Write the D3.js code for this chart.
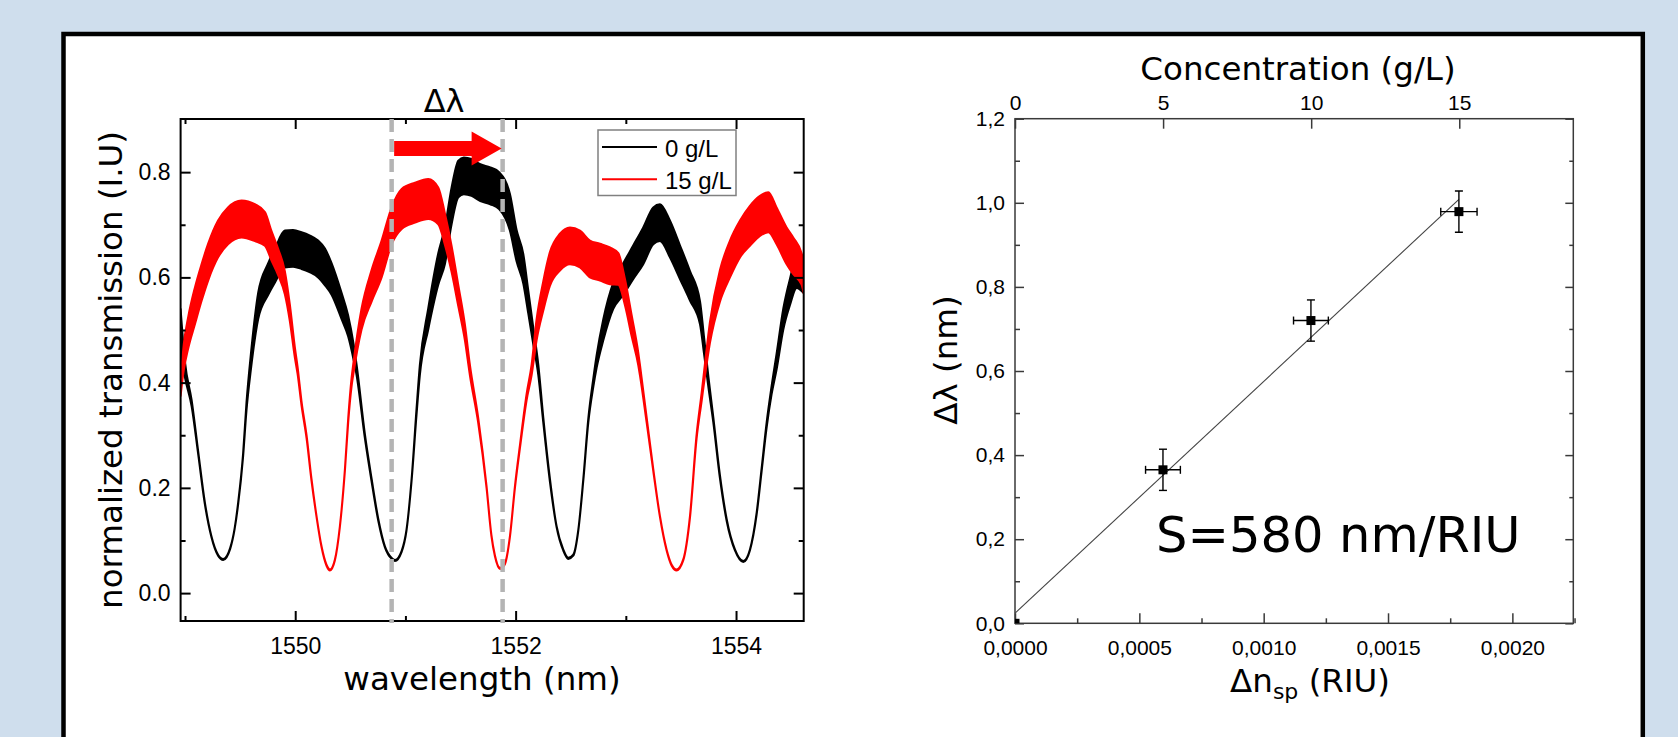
<!DOCTYPE html>
<html><head><meta charset="utf-8">
<script src="https://cdn.jsdelivr.net/npm/d3@7"></script>
<style>html,body{margin:0;padding:0;background:#cfdeed;} svg{display:block;}</style>
</head><body>
<svg id="chart" width="1678" height="737"></svg>
<script>
// ---------------- DATA ----------------
// Left panel: transmission spectra (centre value and half-width of the noise band)
const blackWl = [1548.96,1549.00,1549.06,1549.12,1549.18,1549.24,1549.30,1549.347,1549.41,1549.45,
  1549.482,1549.527,1549.558,1549.598,1549.664,1549.755,1549.815,1549.906,1549.98,1550.057,
  1550.13,1550.208,1550.27,1550.33,1550.42,1550.48,1550.53,1550.557,1550.633,1550.693,
  1550.754,1550.814,1550.875,1550.905,1550.965,1551.01,1551.056,1551.101,1551.131,1551.207,
  1551.298,1551.358,1551.419,1551.48,1551.53,1551.60,1551.68,1551.77,1551.85,1551.948,
  1552.009,1552.07,1552.115,1552.16,1552.206,1552.251,1552.311,1552.372,1552.432,1552.478,
  1552.523,1552.569,1552.614,1552.66,1552.705,1552.735,1552.795,1552.886,1552.977,1553.068,
  1553.158,1553.249,1553.31,1553.40,1553.491,1553.582,1553.673,1553.71,1553.75,1553.794,
  1553.854,1553.915,1553.99,1554.066,1554.126,1554.187,1554.232,1554.278,1554.323,1554.368,
  1554.429,1554.489,1554.55,1554.614];
const blackT = [0.50,0.424,0.361,0.266,0.171,0.107,0.072,0.064,0.085,0.122,
  0.170,0.262,0.355,0.44,0.546,0.597,0.622,0.654,0.655,0.651,
  0.645,0.635,0.62,0.597,0.546,0.508,0.458,0.424,0.297,0.215,
  0.139,0.088,0.066,0.062,0.079,0.120,0.215,0.345,0.424,0.521,
  0.616,0.66,0.736,0.787,0.793,0.79,0.78,0.774,0.765,0.724,
  0.66,0.616,0.553,0.489,0.424,0.329,0.215,0.126,0.082,0.066,
  0.072,0.12,0.215,0.329,0.400,0.44,0.50,0.565,0.597,0.629,
  0.66,0.698,0.704,0.673,0.629,0.584,0.533,0.47,0.40,0.329,
  0.221,0.139,0.082,0.06,0.082,0.151,0.234,0.320,0.386,0.44,
  0.521,0.572,0.61,0.60];
const blackNoise = [0.04,0.015,0.006,0.003,0.002,0.001,0.001,0.001,0.001,0.001,
  0.002,0.003,0.008,0.015,0.025,0.03,0.032,0.035,0.035,0.035,
  0.035,0.035,0.035,0.03,0.025,0.02,0.015,0.01,0.004,0.003,
  0.002,0.001,0.001,0.001,0.001,0.001,0.002,0.006,0.01,0.02,
  0.03,0.035,0.035,0.035,0.035,0.035,0.035,0.035,0.035,0.035,
  0.03,0.028,0.022,0.016,0.01,0.005,0.003,0.001,0.001,0.001,
  0.001,0.001,0.002,0.004,0.008,0.012,0.02,0.025,0.03,0.032,
  0.035,0.035,0.035,0.035,0.032,0.028,0.022,0.016,0.01,0.005,
  0.003,0.002,0.001,0.001,0.001,0.002,0.003,0.005,0.008,0.015,
  0.02,0.025,0.03,0.03];

const redWl = [1548.96,1548.99,1549.029,1549.09,1549.15,1549.21,1549.30,1549.39,1549.513,1549.634,
  1549.725,1549.785,1549.846,1549.906,1549.951,1549.997,1550.021,1550.057,1550.103,1550.148,
  1550.194,1550.239,1550.284,1550.315,1550.36,1550.405,1550.451,1550.481,1550.511,1550.526,
  1550.602,1550.693,1550.784,1550.875,1550.966,1551.087,1551.207,1551.298,1551.358,1551.419,
  1551.48,1551.54,1551.585,1551.66,1551.736,1551.78,1551.812,1551.858,1551.903,1551.948,
  1551.994,1552.039,1552.10,1552.145,1552.19,1552.251,1552.311,1552.402,1552.493,1552.584,
  1552.674,1552.765,1552.856,1552.932,1552.992,1553.053,1553.113,1553.128,1553.189,1553.249,
  1553.31,1553.37,1553.416,1553.461,1553.521,1553.582,1553.642,1553.688,1553.718,1553.763,
  1553.854,1553.945,1554.036,1554.126,1554.217,1554.293,1554.368,1554.459,1554.519,1554.595,
  1554.614];
const redT = [0.39,0.45,0.495,0.546,0.59,0.629,0.673,0.698,0.711,0.704,
  0.692,0.66,0.629,0.59,0.533,0.457,0.424,0.361,0.297,0.215,
  0.145,0.088,0.053,0.044,0.063,0.126,0.234,0.329,0.400,0.424,
  0.521,0.584,0.635,0.698,0.730,0.742,0.749,0.736,0.692,0.635,
  0.565,0.495,0.424,0.329,0.202,0.11,0.071,0.047,0.056,0.107,
  0.202,0.278,0.373,0.424,0.50,0.565,0.616,0.648,0.66,0.654,
  0.635,0.629,0.622,0.616,0.572,0.508,0.445,0.424,0.329,0.234,
  0.145,0.082,0.053,0.044,0.063,0.145,0.297,0.373,0.424,0.495,
  0.584,0.635,0.673,0.698,0.717,0.724,0.698,0.66,0.641,0.616,
  0.60];
const redNoise = [0.015,0.025,0.03,0.035,0.035,0.035,0.035,0.035,0.035,0.035,
  0.032,0.028,0.025,0.022,0.016,0.01,0.007,0.004,0.003,0.002,
  0.001,0.001,0.001,0.001,0.001,0.001,0.002,0.004,0.008,0.01,
  0.02,0.03,0.035,0.035,0.038,0.038,0.038,0.035,0.03,0.025,
  0.02,0.015,0.01,0.005,0.002,0.001,0.001,0.001,0.001,0.001,
  0.002,0.003,0.006,0.01,0.02,0.028,0.032,0.035,0.035,0.035,
  0.035,0.035,0.035,0.03,0.025,0.02,0.012,0.01,0.005,0.002,
  0.001,0.001,0.001,0.001,0.001,0.002,0.004,0.008,0.012,0.02,
  0.03,0.035,0.035,0.038,0.038,0.038,0.035,0.035,0.035,0.03,
  0.03];

const legendLabels = ["0 g/L", "15 g/L"];
const seriesColors = ["#000000", "#ff0000"];
const wlTicksMajor = [1550, 1552, 1554];
const wlTicksMinor = [1549, 1551, 1553];
const tTicksMajor = [0.0, 0.2, 0.4, 0.6, 0.8];
const tTicksMinor = [0.1, 0.3, 0.5, 0.7];
const shiftMarks = [1550.875, 1551.882];   // dashed guide lines (nm)
const arrowLevel = 0.845;                  // transmission level of the shift arrow

// Right panel: shift vs index change
const dnSp = [0, 0.000595, 0.00119, 0.001785];
const dLambda = [0, 0.365, 0.72, 0.979];
const dnErr = [0, 0.00007, 0.00007, 0.000073];
const dLambdaErr = [0, 0.049, 0.049, 0.049];
const concTicks = [0, 5, 10, 15];
const dnTicksMajor = [0, 0.0005, 0.0010, 0.0015, 0.0020];
const dnTicksMinor = [0.00025, 0.00075, 0.00125, 0.00175, 0.00225];
const dlTicksMajor = [0, 0.2, 0.4, 0.6, 0.8, 1.0, 1.2];
const dlTicksMinor = [0.1, 0.3, 0.5, 0.7, 0.9, 1.1];
const fitDn = [0, 0.001785];
const fitDl = [0.024, 1.008];
const sensitivityText = "S=580 nm/RIU";
const sensitivityPos = [0.000567, 0.170];

// ---------------- DRAWING ----------------
const svg = d3.select("#chart");
const TITLE_FONT = "'DejaVu Sans', Verdana, sans-serif";
const TICK_FONT = "'Liberation Sans', Arial, sans-serif";

svg.append("rect").attr("width", 1678).attr("height", 737).attr("fill", "#cfdeed");
svg.append("rect").attr("x", 63.5).attr("y", 34).attr("width", 1579.3).attr("height", 800)
  .attr("fill", "#ffffff").attr("stroke", "#000").attr("stroke-width", 4.5);

const defs = svg.append("defs");

function cleanAxis(g, color, width, size) {
  g.select(".domain").remove();
  g.attr("font-family", TICK_FONT).attr("font-size", size || 10);
  g.selectAll(".tick line").attr("stroke", color).attr("stroke-width", width);
  g.selectAll(".tick text").attr("fill", "#000");
}

// ===== Left panel =====
const L = {x0: 180.6, x1: 803.7, y0: 119, y1: 621};
const xL = d3.scaleLinear().domain([1548.96, 1554.614]).range([L.x0, L.x1]);
const yL = d3.scaleLinear().domain([-0.053, 0.901]).range([L.y1, L.y0]);

defs.append("clipPath").attr("id", "clipL").append("rect")
  .attr("x", L.x0).attr("y", L.y0).attr("width", L.x1 - L.x0).attr("height", L.y1 - L.y0);

const series = [
  {wl: blackWl, t: blackT, n: blackNoise, color: seriesColors[0]},
  {wl: redWl, t: redT, n: redNoise, color: seriesColors[1]}
];
const band = d3.area()
  .x(d => xL(d.w)).y0(d => yL(d.t - d.n)).y1(d => yL(d.t + d.n))
  .curve(d3.curveMonotoneX);
const gCurves = svg.append("g").attr("clip-path", "url(#clipL)");
series.forEach(s => {
  const pts = s.wl.map((w, i) => ({w: w, t: s.t[i], n: s.n[i]}));
  gCurves.append("path").datum(pts).attr("d", band)
    .attr("fill", s.color).attr("stroke", s.color).attr("stroke-width", 2)
    .attr("stroke-linejoin", "round");
});

// bottom axis
svg.append("g").attr("transform", `translate(0,${L.y1})`)
  .call(d3.axisBottom(xL).tickValues(wlTicksMajor).tickSizeInner(-10).tickSizeOuter(0)
    .tickPadding(17).tickFormat(d3.format("d")))
  .call(g => cleanAxis(g, "#000", 2, 23));
svg.append("g").attr("transform", `translate(0,${L.y1})`)
  .call(d3.axisBottom(xL).tickValues(wlTicksMinor).tickSizeInner(-5).tickSizeOuter(0).tickFormat(""))
  .call(g => cleanAxis(g, "#000", 2));
// top axis
svg.append("g").attr("transform", `translate(0,${L.y0})`)
  .call(d3.axisTop(xL).tickValues(wlTicksMajor).tickSizeInner(-10).tickSizeOuter(0).tickFormat(""))
  .call(g => cleanAxis(g, "#000", 2));
svg.append("g").attr("transform", `translate(0,${L.y0})`)
  .call(d3.axisTop(xL).tickValues(wlTicksMinor).tickSizeInner(-5).tickSizeOuter(0).tickFormat(""))
  .call(g => cleanAxis(g, "#000", 2));
// left axis
svg.append("g").attr("transform", `translate(${L.x0},0)`)
  .call(d3.axisLeft(yL).tickValues(tTicksMajor).tickSizeInner(-10).tickSizeOuter(0)
    .tickPadding(10).tickFormat(d3.format(".1f")))
  .call(g => cleanAxis(g, "#000", 2, 23));
svg.append("g").attr("transform", `translate(${L.x0},0)`)
  .call(d3.axisLeft(yL).tickValues(tTicksMinor).tickSizeInner(-5).tickSizeOuter(0).tickFormat(""))
  .call(g => cleanAxis(g, "#000", 2));
// right axis
svg.append("g").attr("transform", `translate(${L.x1},0)`)
  .call(d3.axisRight(yL).tickValues(tTicksMajor).tickSizeInner(-10).tickSizeOuter(0).tickFormat(""))
  .call(g => cleanAxis(g, "#000", 2));
svg.append("g").attr("transform", `translate(${L.x1},0)`)
  .call(d3.axisRight(yL).tickValues(tTicksMinor).tickSizeInner(-5).tickSizeOuter(0).tickFormat(""))
  .call(g => cleanAxis(g, "#000", 2));

svg.append("rect").attr("x", L.x0).attr("y", L.y0).attr("width", L.x1 - L.x0).attr("height", L.y1 - L.y0)
  .attr("fill", "none").attr("stroke", "#000").attr("stroke-width", 2);

// dashed guide lines
svg.selectAll(".shift").data(shiftMarks).join("line")
  .attr("x1", d => xL(d)).attr("x2", d => xL(d))
  .attr("y1", L.y0).attr("y2", L.y1 + 2)
  .attr("stroke", "#b4b4b4").attr("stroke-width", 4.5).attr("stroke-dasharray", "13,7");

// arrow
{
  const xa = xL(shiftMarks[0]) + 2.5, xb = xL(shiftMarks[1]) - 1, ya = yL(arrowLevel);
  const headLen = 30, shaftHalf = 7.5, headHalf = 17;
  svg.append("path")
    .attr("d", `M${xa},${ya - shaftHalf} L${xb - headLen},${ya - shaftHalf} L${xb - headLen},${ya - headHalf}
      L${xb},${ya} L${xb - headLen},${ya + headHalf} L${xb - headLen},${ya + shaftHalf} L${xa},${ya + shaftHalf} Z`)
    .attr("fill", "#ff0000");
}
svg.append("text").attr("x", (xL(shiftMarks[0]) + xL(shiftMarks[1])) / 2 - 3).attr("y", 112)
  .attr("text-anchor", "middle").attr("font-family", TITLE_FONT).attr("font-size", 32)
  .text("Δλ");

// legend
{
  const lg = svg.append("g");
  lg.append("rect").attr("x", 598).attr("y", 130).attr("width", 138).attr("height", 65.5)
    .attr("fill", "#fff").attr("stroke", "#808080").attr("stroke-width", 1.5);
  legendLabels.forEach((lab, i) => {
    const yy = 147 + i * 32.3;
    lg.append("line").attr("x1", 602).attr("x2", 657).attr("y1", yy).attr("y2", yy)
      .attr("stroke", seriesColors[i]).attr("stroke-width", 2);
    lg.append("text").attr("x", 665).attr("y", yy + 10).attr("font-family", TICK_FONT)
      .attr("font-size", 24).text(lab);
  });
}

// titles
svg.append("text").attr("transform", "translate(122,370) rotate(-90)")
  .attr("text-anchor", "middle").attr("font-family", TITLE_FONT).attr("font-size", 32.5)
  .text("normalized transmission (I.U)");
svg.append("text").attr("x", 482).attr("y", 690)
  .attr("text-anchor", "middle").attr("font-family", TITLE_FONT).attr("font-size", 32.5)
  .text("wavelength (nm)");

// ===== Right panel =====
const R = {x0: 1015, x1: 1573.3, y0: 118.7, y1: 623.3};
const xR = d3.scaleLinear().domain([0, 0.002245]).range([R.x0, R.x1]);
const xC = d3.scaleLinear().domain([0, 18.85]).range([R.x0, R.x1]);
const yR = d3.scaleLinear().domain([0, 1.2]).range([R.y1, R.y0]);
const AX = "#3a3a3a";
const comma = f => (d => f(d).replace(".", ","));

svg.append("g").attr("transform", `translate(0,${R.y1})`)
  .call(d3.axisBottom(xR).tickValues(dnTicksMajor).tickSizeInner(-10).tickSizeOuter(0)
    .tickPadding(17).tickFormat(comma(d3.format(".4f"))))
  .call(g => cleanAxis(g, AX, 1.5, 21));
svg.append("g").attr("transform", `translate(0,${R.y1})`)
  .call(d3.axisBottom(xR).tickValues(dnTicksMinor).tickSizeInner(-5).tickSizeOuter(0).tickFormat(""))
  .call(g => cleanAxis(g, AX, 1.5));
svg.append("g").attr("transform", `translate(0,${R.y0})`)
  .call(d3.axisTop(xC).tickValues(concTicks).tickSizeInner(-10).tickSizeOuter(0)
    .tickPadding(9).tickFormat(d3.format("d")))
  .call(g => cleanAxis(g, AX, 1.5, 21));
svg.append("g").attr("transform", `translate(${R.x0},0)`)
  .call(d3.axisLeft(yR).tickValues(dlTicksMajor).tickSizeInner(-9).tickSizeOuter(0)
    .tickPadding(10).tickFormat(comma(d3.format(".1f"))))
  .call(g => cleanAxis(g, AX, 1.5, 21));
svg.append("g").attr("transform", `translate(${R.x0},0)`)
  .call(d3.axisLeft(yR).tickValues(dlTicksMinor).tickSizeInner(-5).tickSizeOuter(0).tickFormat(""))
  .call(g => cleanAxis(g, AX, 1.5));
svg.append("g").attr("transform", `translate(${R.x1},0)`)
  .call(d3.axisRight(yR).tickValues(dlTicksMajor).tickSizeInner(-8).tickSizeOuter(0).tickFormat(""))
  .call(g => cleanAxis(g, AX, 1.5));
svg.append("g").attr("transform", `translate(${R.x1},0)`)
  .call(d3.axisRight(yR).tickValues(dlTicksMinor).tickSizeInner(-4).tickSizeOuter(0).tickFormat(""))
  .call(g => cleanAxis(g, AX, 1.5));

svg.append("rect").attr("x", R.x0).attr("y", R.y0).attr("width", R.x1 - R.x0).attr("height", R.y1 - R.y0)
  .attr("fill", "none").attr("stroke", AX).attr("stroke-width", 1.5);

defs.append("clipPath").attr("id", "clipR").append("rect")
  .attr("x", R.x0).attr("y", R.y0).attr("width", R.x1 - R.x0).attr("height", R.y1 - R.y0);

// fit line
svg.append("line")
  .attr("x1", xR(fitDn[0])).attr("y1", yR(fitDl[0]))
  .attr("x2", xR(fitDn[1])).attr("y2", yR(fitDl[1]))
  .attr("stroke", "#444").attr("stroke-width", 1.1);

// points with error bars
const gPts = svg.append("g").attr("clip-path", "url(#clipR)");
const pts = dnSp.map((x, i) => ({x: x, y: dLambda[i], ex: dnErr[i], ey: dLambdaErr[i]}));
const cap = 4;
pts.forEach(p => {
  const cx = xR(p.x), cy = yR(p.y);
  if (p.ey > 0) {
    const y1 = yR(p.y - p.ey), y2 = yR(p.y + p.ey);
    gPts.append("line").attr("x1", cx).attr("x2", cx).attr("y1", y1).attr("y2", y2);
    gPts.append("line").attr("x1", cx - cap).attr("x2", cx + cap).attr("y1", y1).attr("y2", y1);
    gPts.append("line").attr("x1", cx - cap).attr("x2", cx + cap).attr("y1", y2).attr("y2", y2);
  }
  if (p.ex > 0) {
    const x1 = xR(p.x - p.ex), x2 = xR(p.x + p.ex);
    gPts.append("line").attr("x1", x1).attr("x2", x2).attr("y1", cy).attr("y2", cy);
    gPts.append("line").attr("x1", x1).attr("x2", x1).attr("y1", cy - cap).attr("y2", cy + cap);
    gPts.append("line").attr("x1", x2).attr("x2", x2).attr("y1", cy - cap).attr("y2", cy + cap);
  }
  gPts.append("rect").attr("x", cx - 4.5).attr("y", cy - 4.5).attr("width", 9).attr("height", 9)
    .attr("fill", "#000");
});
gPts.selectAll("line").attr("stroke", "#000").attr("stroke-width", 1.4);

// annotation
svg.append("text").attr("x", xR(sensitivityPos[0])).attr("y", yR(sensitivityPos[1]))
  .attr("font-family", TITLE_FONT).attr("font-size", 49.5).text(sensitivityText);

// titles
svg.append("text").attr("x", 1298).attr("y", 80).attr("text-anchor", "middle")
  .attr("font-family", TITLE_FONT).attr("font-size", 32.5).text("Concentration (g/L)");
svg.append("text").attr("transform", "translate(957,360) rotate(-90)").attr("text-anchor", "middle")
  .attr("font-family", TITLE_FONT).attr("font-size", 32.5).text("Δλ (nm)");
{
  const t = svg.append("text").attr("x", 1310).attr("y", 692).attr("text-anchor", "middle")
    .attr("font-family", TITLE_FONT).attr("font-size", 32.5);
  t.append("tspan").text("Δn");
  t.append("tspan").attr("font-size", 22).attr("dy", 7).text("sp");
  t.append("tspan").attr("dy", -7).text(" (RIU)");
}
</script>
</body></html>
